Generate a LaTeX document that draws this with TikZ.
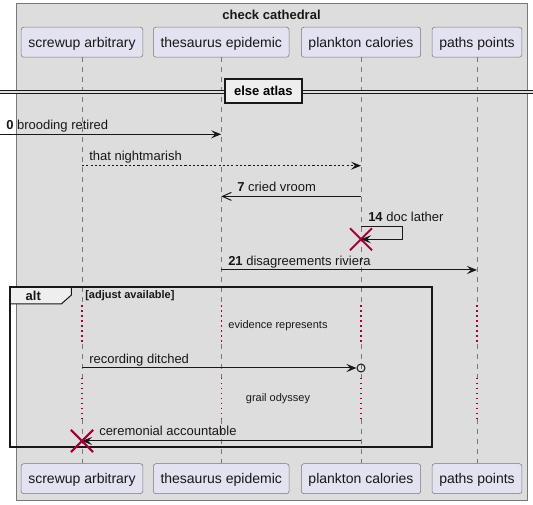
\documentclass[tikz,border=0pt]{standalone}
\usepackage{fontspec}
\setmainfont{Liberation Sans}
\usepackage{xcolor}
\definecolor{umlback}{RGB}{221,221,221}
\definecolor{umlpart}{RGB}{226,226,240}
\definecolor{umlgray}{RGB}{120,120,120}
\definecolor{umldark}{RGB}{24,24,24}
\definecolor{umlred}{RGB}{168,0,54}
\definecolor{umltab}{RGB}{238,238,238}
\usepackage{tikz}
\usetikzlibrary{arrows.meta, positioning, calc, shapes.misc}
\newcommand{\partsize}{\fontsize{10.5}{12.5}\selectfont}
\newcommand{\msgsize}{\fontsize{9.75}{11.5}\selectfont}
\newcommand{\notesize}{\fontsize{8.25}{10}\selectfont}
\tikzset{
  part/.style={draw=umlgray, fill=umlpart, rounded corners=2pt, inner xsep=5.4pt, inner ysep=0pt,
    minimum height=22.5pt, text height=8pt, text depth=0.5pt, font=\partsize, text=umldark},
  lifeline/.style={umlgray, line width=0.75pt, dash pattern=on 3.75pt off 3.75pt},
  delayline/.style={umlred, line width=0.9pt, dash pattern=on 1pt off 2.75pt},
  msg/.style={umldark, line width=0.75pt, -{Stealth[length=7.5pt, width=6pt, inset=3pt]}},
  msgopen/.style={umldark, line width=0.75pt, -{Straight Barb[length=6.75pt, width=6pt]}},
  msgtext/.style={font=\msgsize, text=umldark, anchor=base west, inner sep=0pt},
  destroy/.style={draw=umlred, cross out, line width=1.5pt, minimum size=15pt, inner sep=0pt},
  sepbox/.style={draw=umldark, line width=1.5pt, fill=umltab, font=\bfseries\msgsize,
    minimum width=57.5pt, minimum height=17.5pt, inner sep=0pt}
}

\begin{document}
\begin{tikzpicture}[x=0.75pt, y=-0.75pt]
  \useasboundingbox (0,0) rectangle (533,505);
  % Outer box
  \draw[fill=umlback, draw=umlgray, line width=0.75pt] (16,4) rectangle (527,500.7);
  \node[font=\bfseries\msgsize, text=umldark] (title) at (271.5,15) {check cathedral};

  % --- Participants ---
  \node[part] (sa1) at (82,42.2) {screwup arbitrary};
  \node[part] (te1) at (221.2,42.2) {thesaurus epidemic};
  \node[part] (pc1) at (361,42.2) {plankton calories};
  \node[part] (pp1) at (477,42.2) {paths points};
  \node[part] (sa2) at (82,478.7) {screwup arbitrary};
  \node[part] (te2) at (221.2,478.7) {thesaurus epidemic};
  \node[part] (pc2) at (361,478.7) {plankton calories};
  \node[part] (pp2) at (477,478.7) {paths points};

  % Lifelines with two delays
  \coordinate (dA) at (0,305.5);
  \coordinate (dB) at (0,344.5);
  \coordinate (dC) at (0,378);
  \coordinate (dD) at (0,419);
  \foreach \p in {sa,te,pc,pp}{
    \draw[lifeline] (\p1.south) -- (\p1 |- dA);
    \draw[delayline] (\p1 |- dA) -- (\p1 |- dB);
    \draw[lifeline] (\p1 |- dB) -- (\p1 |- dC);
    \draw[delayline] (\p1 |- dC) -- (\p1 |- dD);
    \draw[lifeline] (\p1 |- dD) -- (\p2.north);
  }

  % --- Separator ---
  \coordinate (sepL) at (0,92.3);
  \coordinate (sepR) at (533,92.3);
  \draw[umldark, line width=0.75pt, double=umlback, double distance=1.6pt] (sepL) -- (sepR);
  \node[sepbox] (sep) at (263.4,91) {else atlas};

  % --- Messages ---
  \coordinate (m0) at (0,134.3);
  \draw[msg] (m0) -- (te1 |- m0);
  \node[msgtext] (t0) at (6,130) {\textbf{0} brooding retired};

  \coordinate (m1) at (0,165.7);
  \draw[msg, dash pattern=on 1.6pt off 1.6pt] (sa1 |- m1) -- (pc1 |- m1);
  \node[msgtext] (t1) at (89,161) {that nightmarish};

  \coordinate (m2) at (0,196.4);
  \draw[msgopen] (pc1 |- m2) -- (te1 |- m2);
  \node[msgtext] (t2) at (237,192) {\textbf{7} cried vroom};

  % Self message, then destroyed
  \coordinate (m3) at (0,226.7);
  \coordinate (loop1) at (402,226.7);
  \coordinate (loop2) at (402,239.3);
  \node[destroy] (x1) at (pc1 |- loop2) {};
  \draw[msg] (pc1 |- m3) -- (loop1) -- (loop2) -- (x1.center);
  \node[msgtext] (t3) at (368,221.5) {\textbf{14} doc lather};

  \coordinate (m4) at (0,270);
  \draw[msg] (te1 |- m4) -- (pp1 |- m4);
  \node[msgtext] (t4) at (228,265.2) {\textbf{21} disagreements riviera};

  % --- Alt frame ---
  \draw[umldark, line width=0.75pt, fill=umltab] (10,287.5) -- (71.4,287.5) -- (71.4,295)
    -- (61.5,303.8) -- (10,303.8) -- cycle;
  \draw[umldark, line width=1.5pt] (10,287.5) rectangle (432,446.7);
  \node[font=\bfseries\msgsize, text=umldark] (altlbl) at (33.3,296) {alt};
  \node[font=\bfseries\notesize, text=umldark, anchor=west, inner sep=0pt] (guard) at (85,295.5) {[adjust available]};

  \node[font=\notesize, text=umldark] (delay1) at (278,325.8) {evidence represents};

  \coordinate (m5) at (0,368);
  \node[circle, draw=umldark, line width=0.75pt, minimum size=6pt, inner sep=0pt] (rc) at (pc1 |- m5) {};
  \draw[msg] (sa1 |- m5) -- (rc.west);
  \node[msgtext] (t5) at (89,363.5) {recording ditched};

  \node[font=\notesize, text=umldark] (delay2) at (278,398.5) {grail odyssey};

  \coordinate (m6) at (0,441);
  \node[destroy] (x2) at (sa1 |- m6) {};
  \draw[msg] (pc1 |- m6) -- (x2.center);
  \node[msgtext] (t6) at (99,436) {ceremonial accountable};
  \node[destroy] at (x2) {};
\end{tikzpicture}
\end{document}
